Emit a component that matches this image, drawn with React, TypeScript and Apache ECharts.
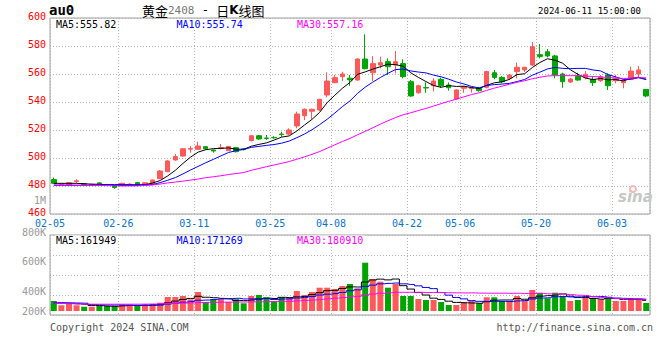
import React, { useEffect, useRef } from 'react';
import * as echarts from 'echarts';

// All trading days shown on the axis (02-05 sits on the left frame; its candle is outside the plot)
const tradingDays = [
  '02-05', '02-06', '02-07', '02-08', '02-19', '02-20', '02-21', '02-22', '02-23', '02-26', '02-27', '02-28', '02-29',
  '03-01', '03-04', '03-05', '03-06', '03-07', '03-08', '03-11', '03-12', '03-13', '03-14', '03-15', '03-18', '03-19',
  '03-20', '03-21', '03-22', '03-25', '03-26', '03-27', '03-28', '03-29',
  '04-01', '04-02', '04-03', '04-08', '04-09', '04-10', '04-11', '04-12', '04-15', '04-16', '04-17', '04-18', '04-19',
  '04-22', '04-23', '04-24', '04-25', '04-26', '04-29', '04-30',
  '05-06', '05-07', '05-08', '05-09', '05-10', '05-13', '05-14', '05-15', '05-16', '05-17', '05-20', '05-21', '05-22',
  '05-23', '05-24', '05-27', '05-28', '05-29', '05-30', '05-31',
  '06-03', '06-04', '06-05', '06-06', '06-07', '06-11',
];
const candleDates = tradingDays.slice(1);
const tickLabels = ['02-05', '02-26', '03-11', '03-25', '04-08', '04-22', '05-06', '05-20', '06-03'];

const opens = [
  484.6, 481.2, 480.7, 483.3, 481.6, 480.9, 482.2, 481.0, 480.2, 480.2,
  480.5, 482.4, 480.8, 481.0, 485.2, 490.2, 498.6, 501.4, 506.3, 506.2,
  508.1, 505.7, 506.8, 505.2, 507.4, 506.5, 512.5, 515.9, 514.3, 514.7,
  517.1, 517.1, 522.9, 530.2, 533.4, 534.3, 545.0, 553.8, 558.1, 557.0,
  555.7, 570.7, 560.9, 566.4, 568.8, 566.4, 567.4, 554.5, 546.6, 550.4,
  551.6, 556.2, 552.1, 542.1, 549.8, 549.5, 549.8, 550.5, 560.9, 557.6,
  556.9, 561.7, 562.9, 566.4, 573.8, 575.9, 572.9, 560.0, 554.3, 558.6,
  557.4, 556.2, 555.2, 559.3, 555.2, 553.8, 556.2, 560.0, 549.0,
];
const closes = [
  481.9, 481.6, 482.3, 483.7, 481.2, 481.2, 481.8, 480.8, 478.9, 481.9,
  481.3, 480.8, 482.3, 484.3, 490.7, 497.9, 501.0, 506.6, 506.8, 508.6,
  506.6, 505.0, 507.3, 508.3, 504.5, 506.0, 515.9, 513.6, 514.0, 514.4,
  516.8, 520.0, 531.4, 534.8, 534.8, 541.9, 555.0, 557.4, 560.0, 555.8,
  570.7, 563.8, 567.4, 568.1, 565.2, 568.8, 558.1, 544.3, 551.6, 550.0,
  555.0, 551.6, 550.2, 548.6, 550.9, 550.2, 548.1, 561.7, 557.6, 554.5,
  559.3, 564.8, 564.8, 579.5, 572.4, 572.9, 559.3, 554.5, 556.4, 555.7,
  559.8, 553.8, 558.1, 551.6, 556.9, 555.2, 562.1, 562.9, 544.3,
];
const highs = [
  486.0, 482.0, 482.6, 484.8, 482.0, 481.6, 482.6, 481.5, 480.5, 482.2,
  482.0, 482.8, 482.6, 484.6, 491.4, 498.4, 502.9, 507.0, 508.6, 511.6,
  508.5, 506.0, 510.0, 508.6, 507.8, 506.9, 516.3, 516.3, 516.4, 515.6,
  518.8, 521.2, 533.1, 535.5, 535.2, 542.2, 561.2, 559.3, 561.6, 559.3,
  571.2, 588.3, 572.9, 572.4, 571.2, 576.4, 570.5, 555.7, 552.3, 554.0,
  556.9, 557.4, 554.0, 549.0, 551.2, 550.7, 550.8, 562.4, 562.9, 558.6,
  560.0, 568.1, 565.2, 582.9, 581.4, 577.9, 573.6, 560.9, 557.1, 560.9,
  562.1, 558.1, 559.3, 560.5, 559.3, 556.2, 565.2, 565.7, 549.2,
];
const lows = [
  481.6, 480.8, 480.5, 481.9, 480.5, 480.6, 481.4, 480.4, 478.0, 480.0,
  480.2, 480.5, 480.5, 480.8, 485.0, 490.0, 498.0, 501.0, 503.8, 506.0,
  505.8, 503.8, 506.2, 505.0, 504.0, 505.4, 511.8, 513.0, 512.9, 513.9,
  515.2, 516.4, 521.2, 527.1, 527.9, 533.6, 543.4, 553.4, 555.0, 551.6,
  555.2, 563.3, 555.0, 564.1, 559.3, 560.5, 556.9, 543.8, 546.0, 546.6,
  547.6, 550.0, 548.1, 541.5, 546.6, 546.6, 547.4, 549.8, 556.2, 553.4,
  555.7, 556.9, 561.4, 565.7, 571.2, 571.9, 556.9, 550.2, 553.6, 555.2,
  556.2, 551.4, 554.3, 548.6, 553.4, 549.8, 555.7, 557.6, 543.4,
];

const ma5 = [
  481.9, 481.9, 481.9, 481.9, 481.6, 481.3, 481.2, 481.0, 480.4, 480.4,
  480.4, 480.5, 480.9, 482.1, 483.9, 487.2, 491.2, 496.1, 500.6, 504.2,
  505.9, 506.7, 506.9, 507.2, 506.3, 506.2, 508.4, 509.7, 510.8, 512.8,
  514.9, 515.8, 519.3, 523.5, 527.6, 532.6, 539.6, 544.8, 549.8, 554.0,
  559.8, 561.5, 563.5, 565.2, 567.0, 566.7, 565.5, 560.9, 557.6, 554.6,
  551.8, 550.5, 551.7, 551.1, 551.3, 550.3, 549.6, 551.9, 553.7, 554.4,
  556.2, 559.6, 560.2, 564.6, 568.2, 570.9, 569.8, 567.7, 563.1, 559.8,
  557.1, 556.0, 556.8, 555.8, 556.0, 555.1, 556.8, 557.7, 556.3,
];
const ma10 = [
  480.5, 480.5, 480.5, 480.5, 480.5, 480.6, 480.7, 480.9, 481.1, 481.0,
  481.0, 480.9, 480.9, 481.0, 482.4, 484.1, 486.0, 488.6, 491.4, 494.0,
  496.6, 499.0, 501.5, 503.9, 505.3, 506.1, 507.6, 508.3, 509.0, 509.6,
  510.6, 512.1, 514.5, 517.1, 520.2, 523.8, 527.7, 532.1, 536.7, 540.8,
  546.2, 550.6, 554.2, 557.5, 560.5, 563.2, 563.5, 562.2, 561.4, 560.8,
  559.2, 558.0, 556.3, 554.3, 552.9, 551.1, 550.1, 551.8, 552.4, 552.8,
  553.3, 554.6, 556.1, 559.1, 561.3, 563.6, 564.7, 564.0, 563.8, 564.0,
  564.0, 562.9, 562.2, 559.5, 557.9, 556.1, 556.4, 557.3, 556.0,
];
const ma30 = [
  480.8, 480.7, 480.7, 480.6, 480.5, 480.5, 480.4, 480.3, 480.2, 480.1,
  480.1, 480.1, 480.4, 480.8, 481.4, 482.2, 482.8, 483.5, 484.2, 485.0,
  485.9, 486.6, 487.3, 488.2, 488.9, 489.6, 491.2, 492.5, 493.8, 495.0,
  496.2, 497.5, 499.1, 500.8, 502.6, 504.6, 507.0, 509.4, 511.8, 514.0,
  516.6, 519.0, 521.6, 524.2, 526.6, 528.9, 530.9, 532.3, 533.9, 535.4,
  537.1, 538.8, 540.5, 542.0, 543.7, 545.3, 546.6, 548.3, 549.9, 551.3,
  552.7, 554.1, 555.2, 556.6, 557.7, 558.6, 558.8, 558.8, 558.8, 558.8,
  558.5, 558.2, 557.9, 557.4, 557.2, 556.8, 557.0, 557.4, 557.2,
];

// volume, thousand lots
const volume = [
  151.9, 86.6, 117.0, 86.6, 65.3, 65.3, 76.0, 76.0, 76.0, 101.8,
  101.8, 76.0, 101.8, 101.8, 126.1, 212.7, 212.7, 227.9, 177.7, 288.6,
  136.7, 177.7, 177.7, 136.7, 177.7, 117.0, 227.9, 243.0, 208.1, 151.9,
  208.1, 202.0, 303.8, 243.0, 288.6, 353.9, 353.9, 334.2, 379.8, 410.1,
  344.8, 733.7, 486.1, 445.1, 353.9, 410.1, 227.9, 227.9, 182.3, 167.1,
  167.1, 136.7, 91.1, 91.1, 136.7, 151.9, 117.0, 208.1, 208.1, 151.9,
  151.9, 227.9, 151.9, 319.0, 278.0, 192.9, 278.0, 227.9, 151.9, 167.1,
  208.1, 192.9, 177.7, 212.7, 151.9, 151.9, 197.5, 186.8, 121.5,
];
const volMa5 = [
  117.0, 117.0, 113.9, 109.4, 101.5, 84.2, 82.0, 73.8, 71.7, 79.0,
  86.3, 86.3, 91.4, 96.6, 101.5, 123.6, 151.0, 176.2, 191.4, 223.9,
  208.7, 201.7, 191.7, 183.5, 161.3, 157.4, 167.4, 180.5, 194.7, 189.6,
  207.8, 202.6, 214.8, 221.8, 249.1, 278.3, 308.7, 314.7, 342.1, 366.4,
  364.6, 440.5, 470.9, 484.0, 472.7, 485.8, 384.6, 333.0, 280.4, 243.0,
  194.4, 176.2, 148.9, 130.6, 124.6, 121.5, 117.6, 141.0, 164.4, 167.4,
  167.4, 189.6, 178.3, 200.5, 225.7, 233.9, 243.9, 259.1, 225.7, 203.5,
  206.6, 189.6, 179.5, 191.7, 188.7, 177.4, 178.3, 180.2, 161.9,
];
const volMa10 = [
  126.1, 126.1, 124.6, 121.5, 118.5, 98.7, 94.2, 91.1, 91.1, 90.2,
  85.2, 84.2, 82.6, 84.2, 90.2, 105.0, 118.6, 133.8, 144.0, 162.7,
  166.2, 176.4, 184.0, 187.4, 192.6, 183.0, 184.6, 186.1, 189.1, 175.4,
  182.6, 185.0, 197.6, 208.3, 219.3, 243.0, 255.6, 264.8, 281.9, 307.7,
  321.4, 374.6, 392.8, 413.0, 419.5, 425.2, 412.6, 401.9, 382.2, 357.9,
  340.1, 280.4, 240.9, 205.5, 183.8, 158.0, 146.9, 144.9, 147.5, 146.0,
  144.5, 153.6, 159.6, 182.4, 196.6, 200.7, 216.8, 218.7, 213.1, 214.6,
  220.3, 216.8, 219.3, 208.7, 196.1, 192.0, 183.9, 179.8, 176.8,
];
const volMa30 = [
  117.0, 113.9, 110.9, 107.8, 104.8, 103.3, 103.3, 103.3, 103.3, 103.3,
  103.3, 103.3, 104.8, 106.3, 109.4, 113.9, 117.0, 120.0, 123.0, 127.6,
  130.6, 132.2, 133.7, 135.2, 136.7, 136.7, 138.2, 139.7, 141.3, 142.8,
  144.6, 148.6, 154.8, 160.0, 167.4, 177.0, 186.2, 194.9, 205.1, 215.2,
  223.4, 245.3, 258.1, 269.6, 277.2, 283.7, 284.2, 284.2, 284.4, 280.4,
  281.3, 280.0, 277.1, 275.6, 274.2, 275.4, 271.8, 270.5, 270.5, 270.5,
  268.7, 269.5, 264.5, 267.0, 266.6, 261.3, 258.7, 255.2, 247.6, 239.5,
  235.0, 216.9, 206.6, 198.8, 192.2, 183.5, 182.6, 181.2, 179.1,
];

const priceLegend = ['MA5:555.82', 'MA10:555.74', 'MA30:557.16'];
const volumeLegend = ['MA5:161949', 'MA10:171269', 'MA30:180910'];
const volumeTickLabels = ['1M', '800K', '600K', '400K', '200K'];
const symbolText = 'au0';
const timeText = '2024-06-11 15:00:00';
const copyrightText = 'Copyright 2024 SINA.COM';
const siteText = 'http://finance.sina.com.cn';

const MONO = "'DejaVu Sans Mono', monospace";
const CJK = "'Noto Sans CJK SC', sans-serif";
const UP = '#ff5959';
const DOWN = '#00a400';
const MA_COLORS = ['#000000', '#0000ff', '#ff00ff'];
const GRID_LINE = { color: '#b4b4b4', width: 1, type: [1, 2] as number[] };
const FRAME = '#9c9c9c';
const VOL_PX = 15.19; // thousand lots per pixel
const VOL_MIN = -4 * VOL_PX;
const VOL_STEP = 20 * VOL_PX;
const VOL_MAX = VOL_MIN + 4 * VOL_STEP;

const isTick = (idx: number) => tickLabels.includes(tradingDays[idx]);

export default function App() {
  const ref = useRef<HTMLDivElement>(null);
  useEffect(() => {
    if (!ref.current) return;
    const chart = echarts.init(ref.current, null, { renderer: 'svg' });
    const legendX = [55, 175.5, 296];
    const volTickY = [200, 232, 261, 291, 311];
    const graphic: any[] = [
      {
        type: 'text', x: 49, y: 10, z: 100,
        style: { text: symbolText, fill: '#000', font: `bold 14px ${MONO}`, textVerticalAlign: 'middle', lineHeight: 9 },
      },
      {
        type: 'text', x: 142, y: 10, z: 100,
        style: {
          text: '{c|黄金}{g|2408}{m| - }{c|日}{k|K}{c|线图}',
          textVerticalAlign: 'middle',
          rich: {
            c: { fontFamily: CJK, fontSize: 13, lineHeight: 12, fill: '#000', color: '#000' },
            g: { fontFamily: MONO, fontSize: 11, lineHeight: 12, fill: '#777', color: '#777' },
            m: { fontFamily: MONO, fontSize: 12, lineHeight: 12, fill: '#000', color: '#000' },
            k: { fontFamily: "'DejaVu Sans', sans-serif", fontWeight: 'bold', fontSize: 12, lineHeight: 12, fill: '#000', color: '#000' },
          },
        },
      },
      {
        type: 'text', x: 641, y: 11, z: 100,
        style: { text: timeText, fill: '#000', font: `9px ${MONO}`, textAlign: 'right', textVerticalAlign: 'middle' },
      },
      {
        type: 'text', x: 50, y: 327, z: 100,
        style: { text: copyrightText, fill: '#555', font: `10px ${MONO}`, textVerticalAlign: 'middle' },
      },
      {
        type: 'text', x: 653, y: 327, z: 100,
        style: { text: siteText, fill: '#555', font: `10px ${MONO}`, textAlign: 'right', textVerticalAlign: 'middle' },
      },
      {
        type: 'text', x: 618, y: 197, z: 1,
        style: { text: 'sina', fill: '#c6c6c6', font: `italic bold 15px 'DejaVu Sans', sans-serif`, textVerticalAlign: 'middle' },
      },
      {
        type: 'ring', shape: { cx: 633, cy: 189, r: 4, r0: 2 }, z: 1,
        style: { fill: '#f3b9b9' },
      },
    ];
    priceLegend.forEach((t, i) => {
      graphic.push({
        type: 'text', x: legendX[i], y: 24, z: 100,
        style: {
          text: t, fill: MA_COLORS[i], font: `10px ${MONO}`, textVerticalAlign: 'middle', lineHeight: 9,
          backgroundColor: '#fff', padding: [0, 1, 0, 1],
        },
      });
    });
    volumeLegend.forEach((t, i) => {
      graphic.push({
        type: 'text', x: legendX[i], y: 240, z: 100,
        style: {
          text: t, fill: MA_COLORS[i], font: `10px ${MONO}`, textVerticalAlign: 'middle', lineHeight: 9,
          backgroundColor: '#fff', padding: [0, 1, 0, 1],
        },
      });
    });
    volumeTickLabels.forEach((t, i) => {
      graphic.push({
        type: 'text', x: 46, y: volTickY[i], z: 100,
        style: { text: t, fill: '#999', font: `10px ${MONO}`, textAlign: 'right', textVerticalAlign: 'middle', lineHeight: 8 },
      });
    });

    const xBase = {
      type: 'category',
      data: candleDates,
      boundaryGap: true,
      axisLine: { show: false },
      axisTick: { show: false },
      splitLine: { show: true, interval: isTick, lineStyle: GRID_LINE },
    };
    const maLine = (data: number[], color: string, xi: number, step?: string) => ({
      type: 'line',
      xAxisIndex: xi,
      yAxisIndex: xi,
      data,
      symbol: 'none',
      step: step || false,
      silent: true,
      z: 4,
      lineStyle: { color, width: 1 },
    });

    chart.setOption({
      animation: false,
      backgroundColor: '#ffffff',
      grid: [
        { left: 50, top: 18, width: 600, height: 196, show: true, borderColor: FRAME, borderWidth: 1 },
        { left: 50, top: 235, width: 600, height: 80, show: true, borderColor: FRAME, borderWidth: 1 },
      ],
      xAxis: [
        {
          ...xBase,
          gridIndex: 0,
          axisLabel: {
            interval: isTick,
            formatter: (_v: string, idx: number) => tradingDays[idx],
            color: '#0a74c4',
            fontFamily: MONO,
            fontSize: 10,
            lineHeight: 8,
            margin: 5,
            padding: [0, 7.6, 0, 0],
          },
        },
        { ...xBase, gridIndex: 1, axisLabel: { show: false } },
      ],
      yAxis: [
        {
          type: 'value', gridIndex: 0, min: 460, max: 600, interval: 20,
          axisLine: { show: false }, axisTick: { show: false },
          axisLabel: {
            color: '#ff0000', fontFamily: MONO, fontSize: 10, lineHeight: 4, margin: 4,
            verticalAlign: 'bottom',
          },
          splitLine: { show: true, lineStyle: GRID_LINE },
        },
        {
          type: 'value', gridIndex: 1, min: VOL_MIN, max: VOL_MAX, interval: VOL_STEP,
          axisLine: { show: false }, axisTick: { show: false }, axisLabel: { show: false },
          splitLine: { show: true, lineStyle: GRID_LINE },
        },
      ],
      series: [
        {
          type: 'candlestick',
          xAxisIndex: 0,
          yAxisIndex: 0,
          barWidth: 5,
          silent: true,
          data: candleDates.map((_, j) => [opens[j], closes[j], lows[j], highs[j]]),
          itemStyle: { color: UP, color0: DOWN, borderColor: UP, borderColor0: DOWN, borderWidth: 1 },
        },
        maLine(ma5, MA_COLORS[0], 0),
        maLine(ma10, MA_COLORS[1], 0),
        maLine(ma30, MA_COLORS[2], 0),
        {
          type: 'bar',
          xAxisIndex: 1,
          yAxisIndex: 1,
          barWidth: 6,
          silent: true,
          data: volume.map((v, j) => ({
            value: v,
            itemStyle: { color: closes[j] >= opens[j] ? UP : DOWN },
          })),
        },
        maLine(volMa5, MA_COLORS[0], 1, 'middle'),
        maLine(volMa10, MA_COLORS[1], 1, 'middle'),
        maLine(volMa30, MA_COLORS[2], 1, 'middle'),
      ],
      graphic,
    });
    return () => chart.dispose();
  }, []);
  return <div ref={ref} style={{ position: 'fixed', left: 0, top: 0, width: 660, height: 360 }} />;
}
